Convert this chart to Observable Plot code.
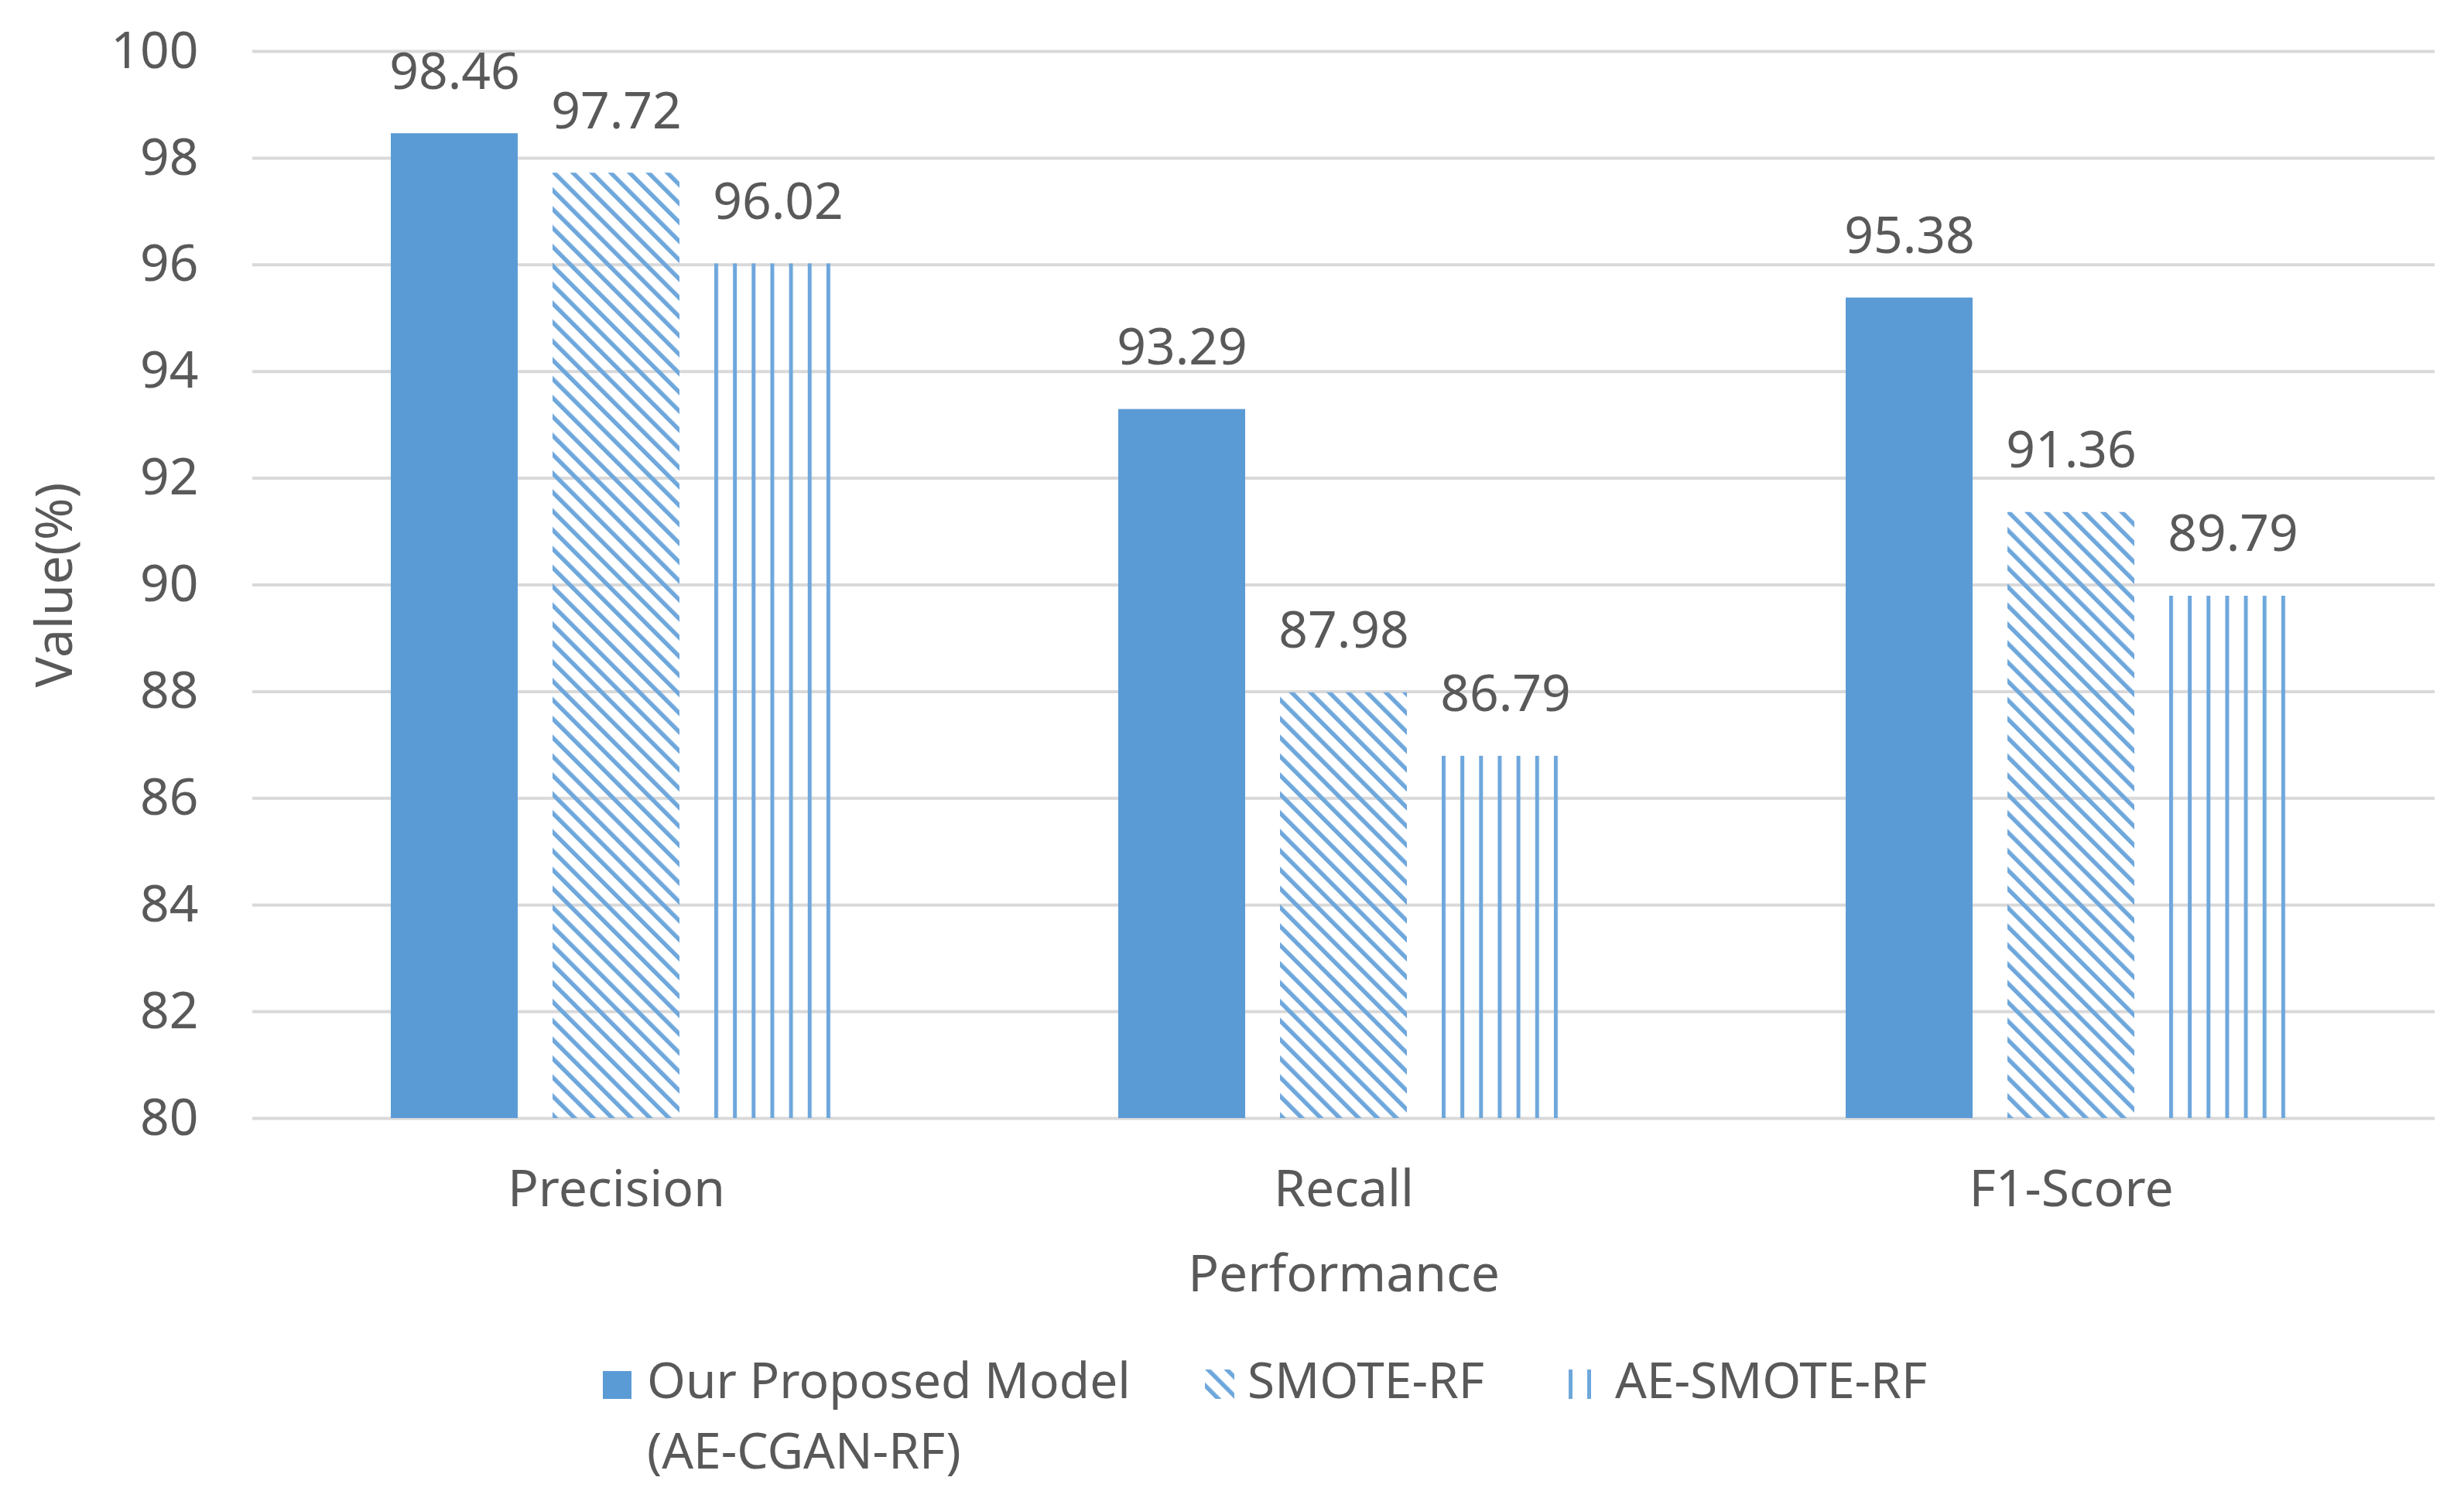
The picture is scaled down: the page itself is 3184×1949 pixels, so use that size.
<!DOCTYPE html>
<html>
<head>
<meta charset="utf-8">
<script src="https://cdn.jsdelivr.net/npm/d3@7"></script>
<script src="https://cdn.jsdelivr.net/npm/@observablehq/plot@0.6"></script>
<style>
  html, body { margin: 0; padding: 0; background: #ffffff; }
  body { width: 3184px; height: 1949px; overflow: hidden; font-family: "Noto Sans", sans-serif; color: #595959; }
  #chart svg { display: block; }
  #legend { position: relative; width: 3184px; height: 239px; font-size: 64px; line-height: 91px; }
  #legend .sw { position: absolute; display: block; }
  #legend .tx { position: absolute; top: 27px; white-space: nowrap; }
</style>
</head>
<body>
<div id="chart"></div>
<div id="legend"></div>
<script>
// ---- data ----
const categories = ["Precision", "Recall", "F1-Score"];
const series = ["Our Proposed Model (AE-CGAN-RF)", "SMOTE-RF", "AE-SMOTE-RF"];
const ourModel = [98.46, 93.29, 95.38];
const smoteRF = [97.72, 87.98, 91.36];
const aeSmoteRF = [96.02, 86.79, 89.79];
const yDomain = [80, 100];
const yTicks = [80, 82, 84, 86, 88, 90, 92, 94, 96, 98, 100];

const seriesValues = [ourModel, smoteRF, aeSmoteRF];
const table = [];
categories.forEach((c, i) => {
  series.forEach((s, j) => table.push({category: c, series: s, value: seriesValues[j][i]}));
});

const blue = "#5B9BD5";
const hatchBlue = "#6EA7DC";
const fills = [blue, "url(#hatchDiag)", "url(#hatchVert)"];

const chart = Plot.plot({
  width: 3184,
  height: 1710,
  marginTop: 66,
  marginRight: 37,
  marginBottom: 265,
  marginLeft: 325,
  style: {fontFamily: '"Noto Sans", sans-serif', fontSize: "66px", color: "#595959", background: "#ffffff", overflow: "visible"},
  fx: {domain: categories, padding: 0, axis: "bottom", tickSize: 0, tickPadding: 67,
       label: "Performance", labelAnchor: "center", labelOffset: 223, labelArrow: false},
  x: {domain: series, axis: null, paddingInner: 0.214, paddingOuter: 0.847},
  y: {domain: yDomain, ticks: yTicks, tickSize: 0, tickPadding: 70,
      label: "Value(%)", labelAnchor: "center", labelOffset: 280, labelArrow: false},
  color: {type: "ordinal", domain: series, range: fills},
  marks: [
    Plot.ruleY(yTicks, {stroke: "#D9D9D9", strokeWidth: 4}),
    Plot.barY(table, {fx: "category", x: "series", y1: yDomain[0], y2: "value", fill: "series"}),
    Plot.text(table, {fx: "category", x: "series", y: "value", text: d => d.value.toFixed(2),
                      dy: -58, lineAnchor: "bottom", fill: "#595959"})
  ]
});

// patterns
const defs = document.createElementNS("http://www.w3.org/2000/svg", "defs");
defs.innerHTML = `
<pattern id="hatchDiag" patternUnits="userSpaceOnUse" width="17.25" height="17.25" patternTransform="rotate(-45)">
  <rect x="0" y="0" width="5.5" height="17.25" fill="${hatchBlue}"></rect>
</pattern>
<pattern id="hatchVert" patternUnits="objectBoundingBox" patternContentUnits="userSpaceOnUse" x="0" y="0" width="0.1473" height="1">
  <rect x="0" y="0" width="5" height="3000" fill="${hatchBlue}"></rect>
</pattern>`;
chart.insertBefore(defs, chart.firstChild);
document.getElementById("chart").appendChild(chart);

// legend
const legend = document.getElementById("legend");
const swatches = [
  `<div class="sw" style="left:779px;top:62px;width:37px;height:36px;background:${blue}"></div>`,
  `<svg class="sw" style="left:1557px;top:60px" width="38" height="38">
     <defs><pattern id="legDiag" patternUnits="userSpaceOnUse" width="17.25" height="17.25" patternTransform="rotate(-45)">
       <rect x="0" y="0" width="5.5" height="17.25" fill="${hatchBlue}"></rect></pattern></defs>
     <rect x="0" y="0" width="38" height="38" fill="url(#legDiag)"></rect></svg>`,
  `<svg class="sw" style="left:2024px;top:60px" width="38" height="38">
     <rect x="3" y="0" width="5" height="38" fill="${hatchBlue}"></rect>
     <rect x="27" y="0" width="5" height="38" fill="${hatchBlue}"></rect></svg>`
];
const textLefts = [836, 1612, 2087];
series.forEach((s, i) => {
  const label = s.replace(" (", "<br>(");
  legend.insertAdjacentHTML("beforeend", swatches[i]);
  legend.insertAdjacentHTML("beforeend", `<div class="tx" style="left:${textLefts[i]}px">${label}</div>`);
});
</script>
</body>
</html>
